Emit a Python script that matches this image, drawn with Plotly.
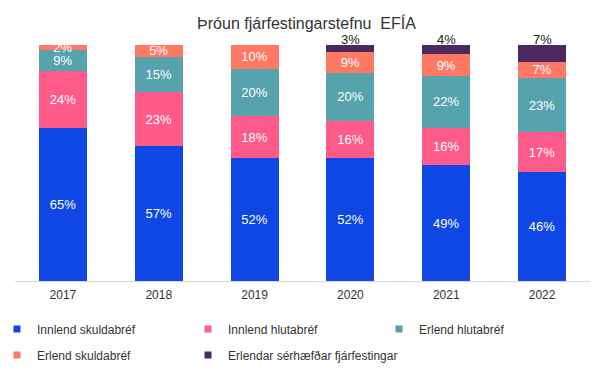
import plotly.graph_objects as go

years = ["2017", "2018", "2019", "2020", "2021", "2022"]
innlend_skuldabref = [65, 57, 52, 52, 49, 46]
innlend_hlutabref = [24, 23, 18, 16, 16, 17]
erlend_hlutabref = [9, 15, 20, 20, 22, 23]
erlend_skuldabref = [2, 5, 10, 9, 9, 7]
erlendar_serhaefdar = [0, 0, 0, 3, 4, 7]

series_names = ["Innlend skuldabréf", "Innlend hlutabréf", "Erlend hlutabréf",
                "Erlend skuldabréf", "Erlendar sérhæfðar fjárfestingar"]
series_values = [innlend_skuldabref, innlend_hlutabref, erlend_hlutabref,
                 erlend_skuldabref, erlendar_serhaefdar]
colors = ["#0E47E4", "#FF5B8A", "#56A3AE", "#FF7964", "#4B285F"]

FONT = "Liberation Sans, Arial, sans-serif"

# The page body has an 8px margin; figure is laid out to compensate.
W, H = 597, 371
ML, MR, MT, MB = 7, 15, 37, 98
PW, PH = W - ML - MR, H - MT - MB

fig = go.Figure()
for i, (name, vals, color) in enumerate(zip(series_names, series_values, colors)):
    last = i == len(series_names) - 1
    labels = [f"{v}%" if v > 0 else "" for v in vals]
    fig.add_trace(go.Bar(
        x=years, y=vals, name=name,
        marker=dict(color=color, line=dict(width=0)),
        text=None if last else labels,
        textposition="none" if last else "inside",
        insidetextanchor="middle",
        constraintext="none",
        textangle=0,
        textfont=dict(family=FONT, size=13, color="white"),
        cliponaxis=False,
        hoverinfo="skip",
        showlegend=False,
    ))

# labels of the top segment, placed just above each stack
totals = [sum(s[j] for s in series_values) for j in range(len(years))]
for j, (tot, v) in enumerate(zip(totals, erlendar_serhaefdar)):
    if v > 0:
        fig.add_annotation(x=j, y=tot, xref="x", yref="y", text=f"{v}%",
                           showarrow=False, xanchor="center", yanchor="bottom",
                           yshift=-4,
                           font=dict(family=FONT, size=13, color="#222222"))

# legend entries (one legend per entry, placed in a 3-column grid)
col_left_page = [-3, 188, 379]
row_center_page = [329, 355]
layout_legends = {}
for i, (name, color) in enumerate(zip(series_names, colors)):
    key = "legend" if i == 0 else f"legend{i + 1}"
    col, row = i % 3, i // 3
    fx = col_left_page[col] - 8
    fy = row_center_page[row] - 8
    fig.add_trace(go.Scatter(
        x=[years[0]], y=[None], mode="markers", name=name,
        marker=dict(symbol="square", size=7, color=color),
        legend=key, hoverinfo="skip",
    ))
    layout_legends[key] = dict(
        x=(fx - ML) / PW, y=(MT + PH - fy) / PH,
        xref="paper", yref="paper", xanchor="left", yanchor="middle",
        orientation="h",
        font=dict(family=FONT, size=12, color="#333333"),
        bgcolor="rgba(0,0,0,0)", itemclick=False, itemdoubleclick=False,
    )

fig.update_layout(
    width=W, height=H,
    barmode="stack", bargap=0.5,
    title=dict(text="Þróun fjárfestingarstefnu  EFÍA", x=0.5, xanchor="center",
               y=1 - 15 / H, yanchor="middle", yref="container",
               font=dict(family=FONT, size=16, color="#333333")),
    margin=dict(l=ML, r=MR, t=MT, b=MB, autoexpand=False),
    paper_bgcolor="white", plot_bgcolor="white",
    showlegend=True,
    xaxis=dict(type="category", categoryorder="array", categoryarray=years,
               range=[-0.5, len(years) - 0.5],
               showline=True, linecolor="#D9D9D9", linewidth=1, ticks="",
               tickfont=dict(family=FONT, size=12, color="#333333"),
               ticklabelstandoff=3,
               showgrid=False, zeroline=False, automargin=False),
    yaxis=dict(range=[0, 100], visible=False, showgrid=False, zeroline=False,
               automargin=False),
    **layout_legends,
)

fig.write_html("out.html")
